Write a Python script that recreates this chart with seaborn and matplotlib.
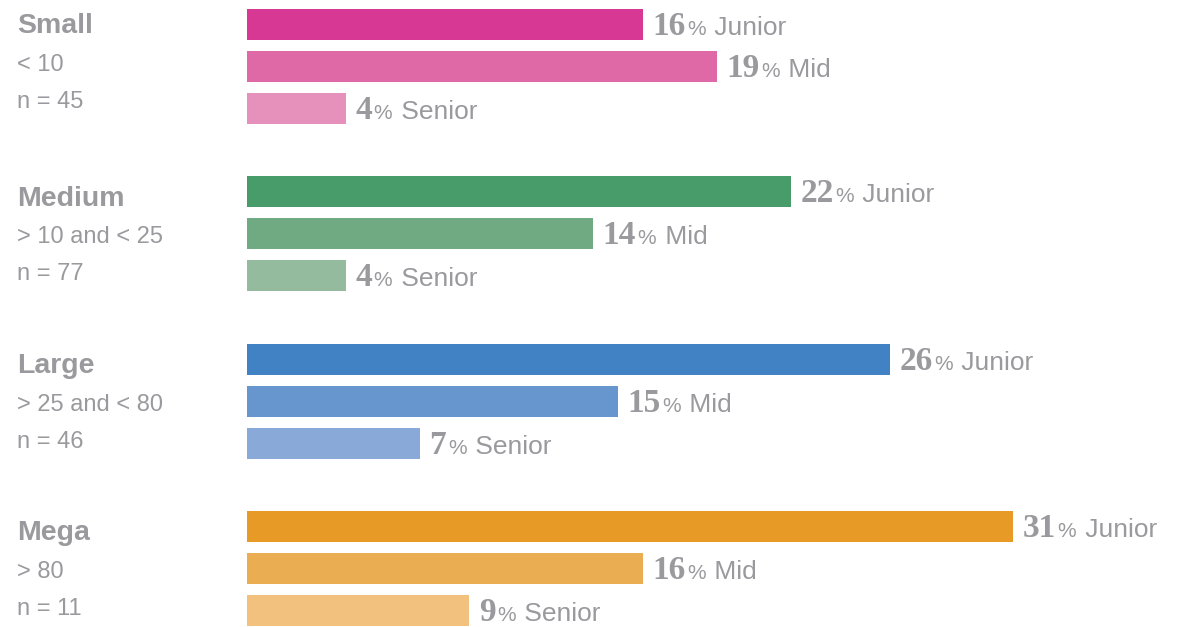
import matplotlib
matplotlib.use("Agg")
import matplotlib.pyplot as plt
import matplotlib.transforms as mtransforms
import seaborn as sns
import pandas as pd

# ---- data ----
groups = ["Small", "Medium", "Large", "Mega"]
ranges = ["< 10", "> 10 and < 25", "> 25 and < 80", "> 80"]
n_values = [45, 77, 46, 11]
levels = ["Junior", "Mid", "Senior"]
small_pct = [16, 19, 4]
medium_pct = [22, 14, 4]
large_pct = [26, 15, 7]
mega_pct = [31, 16, 9]
small_colors = ["#D63893", "#DF69A6", "#E691BC"]
medium_colors = ["#489C6A", "#6FAA83", "#95BB9E"]
large_colors = ["#4082C4", "#6796CF", "#89A9D9"]
mega_colors = ["#E89A26", "#EBAD51", "#F2C17D"]

values = [small_pct, medium_pct, large_pct, mega_pct]
colors = [small_colors, medium_colors, large_colors, mega_colors]

rows = []
order = []
palette = {}
for g, vals, cols in zip(groups, values, colors):
    for lvl, v, c in zip(levels, vals, cols):
        key = f"{g}-{lvl}"
        rows.append({"key": key, "pct": v, "group": g, "level": lvl})
        order.append(key)
        palette[key] = c
    order.append(f"{g}-gap")
df = pd.DataFrame(rows)

TEXT = "#9a9a9e"
W, H = 1189, 627
fig = plt.figure(figsize=(W / 100, H / 100), dpi=100)
left_px = 247
ax = fig.add_axes([left_px / W, 0, 1 - left_px / W, 1])

sns.barplot(data=df, x="pct", y="key", hue="key", palette=palette, order=order,
            hue_order=list(df["key"]), width=0.74, saturation=1, legend=False,
            ax=ax, edgecolor="none")

px_per_pct = 24.72
ax.set_xlim(0, (W - left_px) / px_per_pct)
slot_px = 41.86
ax.set_ylim(14.394, -0.585)
ax.axis("off")

# ---- value labels ----
fig.canvas.draw()
renderer = fig.canvas.get_renderer()
base_off = 10.5 / slot_px  # baseline offset (in slots) below bar center
for i, row in df.iterrows():
    pos = order.index(row["key"])
    y = pos + base_off
    x0 = 9.5
    t1 = ax.annotate(f"{row['pct']}", xy=(row["pct"], y), xytext=(x0, 0),
                     textcoords="offset pixels", va="baseline", ha="left",
                     fontsize=24, fontweight="bold", family="Liberation Serif",
                     color=TEXT)
    w1 = t1.get_window_extent(renderer).width
    t2 = ax.annotate("%", xy=(row["pct"], y), xytext=(x0 + w1 + 1.5, 0),
                     textcoords="offset pixels", va="baseline", ha="left",
                     fontsize=15, family="Liberation Sans", color=TEXT)
    w2 = t2.get_window_extent(renderer).width
    ax.annotate(" " + row["level"], xy=(row["pct"], y),
                xytext=(x0 + w1 + 1.5 + w2 + 1.5, 0),
                textcoords="offset pixels", va="baseline", ha="left",
                fontsize=19, family="Liberation Sans", color=TEXT)

# ---- group labels on the left ----
trans = mtransforms.blended_transform_factory(fig.transFigure, ax.transData)
x_lab = 17 / W
label_shift_px = [-5, 0, 0, -0.5]
for gi, (g, r, n) in enumerate(zip(groups, ranges, n_values)):
    first = gi * 4
    s = label_shift_px[gi]
    fig.text(x_lab, first + (14 + s) / slot_px, g, transform=trans,
             va="baseline", ha="left", fontsize=20.5, fontweight="bold",
             family="Liberation Sans", color=TEXT)
    fig.text(x_lab, first + (51.5 + s) / slot_px, r, transform=trans,
             va="baseline", ha="left", fontsize=17,
             family="Liberation Sans", color=TEXT)
    fig.text(x_lab, first + (88.5 + s) / slot_px, f"n = {n}", transform=trans,
             va="baseline", ha="left", fontsize=17, family="Liberation Sans",
             color=TEXT)

fig.savefig("out.png", dpi=100, facecolor="white")
